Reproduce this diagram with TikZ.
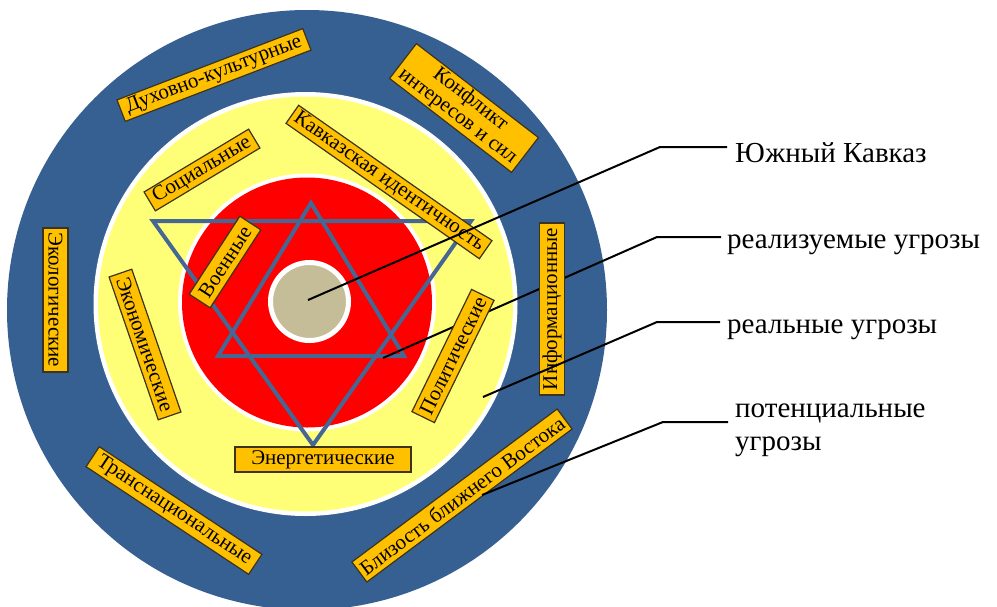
\documentclass[tikz,border=0pt]{standalone}
\usepackage{fontspec}
\setmainfont{Liberation Serif}
\definecolor{ringblue}{RGB}{55,96,146}
\definecolor{yellowfill}{RGB}{255,255,119}
\definecolor{redfill}{RGB}{255,0,0}
\definecolor{beige}{RGB}{196,189,151}
\definecolor{starblue}{RGB}{70,102,148}
\definecolor{boxfill}{RGB}{255,192,0}
\definecolor{boxline}{RGB}{60,50,30}
\begin{document}
\begin{tikzpicture}[x=1pt,y=-1pt,
  box/.style={draw=boxline, fill=boxfill, line width=1.2pt, inner sep=0pt,
    font=\fontsize{21}{21}\selectfont},
  lead/.style={draw=black, line width=2pt},
  star/.style={draw=starblue, line width=4pt, line join=miter},
  lbl/.style={anchor=base west, inner sep=0pt, font=\fontsize{29}{33}\selectfont}]
\useasboundingbox (0,0) rectangle (997,606);
% rings
\fill[ringblue] (307,310) circle[radius=300pt];
\fill[white] (305.5,304) circle[radius=212pt];
\fill[yellowfill] (305.5,304) circle[radius=207.5pt];
\fill[white] (307,302.5) circle[radius=129pt];
\fill[redfill] (307,302.5) circle[radius=125pt];
% star
\coordinate (u1) at (311,203);
\coordinate (u2) at (218,356);
\coordinate (u3) at (404,356);
\coordinate (d1) at (153,221);
\coordinate (d2) at (471,221);
\coordinate (d3) at (313,445);
\draw[star] (u1) -- (u2) -- (u3) -- cycle;
\draw[star] (d1) -- (d2) -- (d3) -- cycle;
% centre
\fill[beige, draw=white, line width=5pt] (309.5,301.5) circle[radius=39pt];
% leader 2 (under the box)
\coordinate (p2) at (383,358);
\coordinate (k2) at (657,237);
\coordinate (e2) at (721,237);
\draw[lead] (p2) -- (k2) -- (e2);
% boxes
\node[box, minimum width=199pt, minimum height=23pt, rotate=21] (b1) at (214,75) {Духовно-культурные};
\node[box, minimum width=154pt, minimum height=44pt, rotate=-37.6, align=center] (b2) at (464,108) {Конфликт\\интересов и сил};
\node[box, minimum width=236pt, minimum height=22pt, rotate=-35] (b3) at (389,182) {Кавказская идентичность};
\node[box, minimum width=122pt, minimum height=22pt, rotate=31] (b4) at (202,170) {Социальные};
\node[box, minimum width=93pt, minimum height=25pt, rotate=57] (b5) at (225,262) {Военные};
\node[box, minimum width=144pt, minimum height=25pt, rotate=-90] (b6) at (55.5,300) {Экологические};
\node[box, minimum width=151pt, minimum height=24pt, rotate=-71] (b7) at (145,344.5) {Экономические};
\node[box, minimum width=176pt, minimum height=25pt] (b8) at (323,459.5) {Энергетические};
\node[box, minimum width=136pt, minimum height=25pt, rotate=64] (b9) at (453,356) {Политические};
\node[box, minimum width=172pt, minimum height=25pt, rotate=90] (b10) at (552,309) {Информационные};
\node[box, minimum width=195pt, minimum height=24pt, rotate=-33.5] (b11) at (174,510.5) {Транснациональные};
\node[box, minimum width=256pt, minimum height=25pt, rotate=36.7] (b12) at (462,495.5) {Близость ближнего Востока};
% leaders on top
\coordinate (p1) at (308,300);
\coordinate (k1) at (660,147);
\coordinate (e1) at (727,147);
\draw[lead] (p1) -- (k1) -- (e1);
\coordinate (p3) at (483,397);
\coordinate (k3) at (657,322);
\coordinate (e3) at (720,322);
\draw[lead] (p3) -- (k3) -- (e3);
\coordinate (p4) at (482,495);
\coordinate (k4) at (663,422);
\coordinate (e4) at (728,422);
\draw[lead] (p4) -- (k4) -- (e4);
% labels
\node[lbl] (t1) at (735,162) {Южный Кавказ};
\node[lbl] (t2) at (727,248) {реализуемые угрозы};
\node[lbl] (t3) at (727,333) {реальные угрозы};
\node[lbl] (t4a) at (735,417) {потенциальные};
\node[lbl] (t4b) at (735,450) {угрозы};
\end{tikzpicture}
\end{document}
